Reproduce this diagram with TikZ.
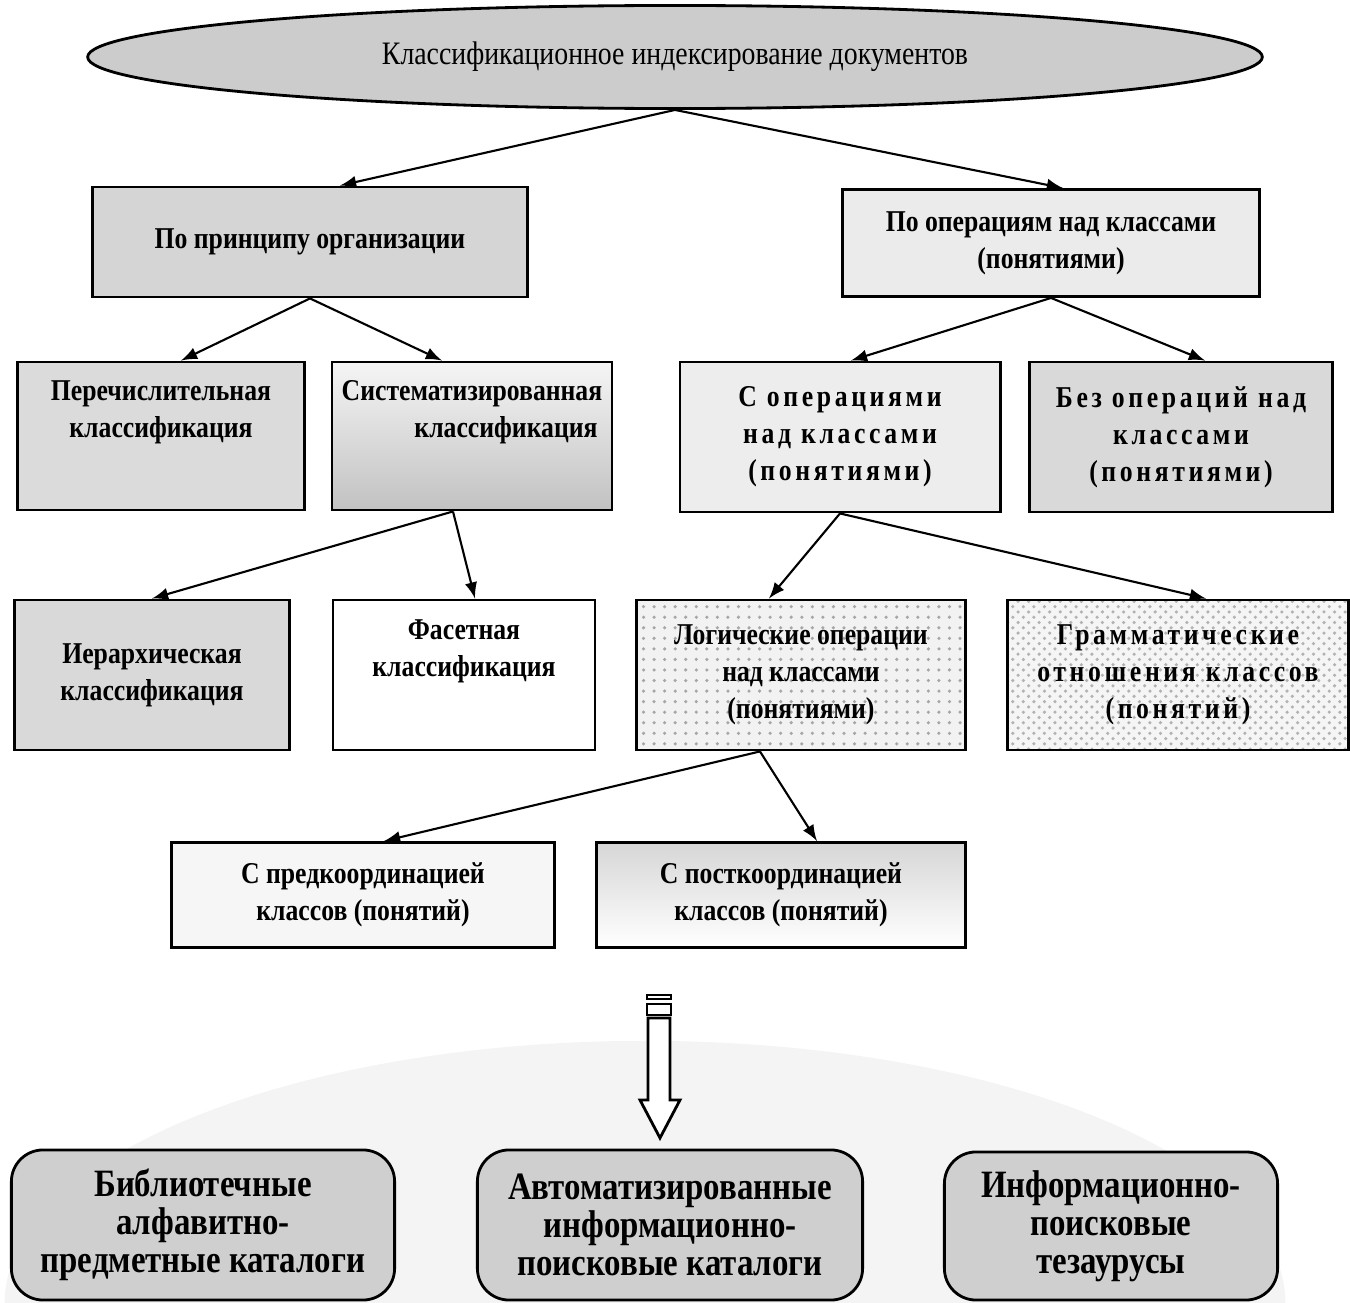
\documentclass[tikz,border=0pt]{standalone}
\usepackage{fontspec}
\setmainfont{Liberation Serif}[FakeStretch=0.85]
\usetikzlibrary{shapes.geometric,patterns}

\tikzset{
  box/.style={draw,thick,rectangle,inner sep=2pt,align=center,font=\bfseries\fontsize{8.6}{10.5}\selectfont},
  wide/.style={font=\bfseries\fontsize{8.6}{10.5}\selectfont\addfontfeature{LetterSpace=12}},
  catbox/.style={draw,thick,rounded corners=9pt,align=center,fill=gray!38,font=\bfseries\fontsize{11}{10.8}\selectfont},
}

\begin{document}
\begin{tikzpicture}[semithick,x=0.01cm,y=-0.01cm,>=latex]
\useasboundingbox (0,0) rectangle (1350,1303);

% faint dome behind the catalogues
\begin{scope}
\clip (0,0) rectangle (1350,1303);
\fill[gray!9] (645,1303) ellipse [x radius=6.4cm, y radius=2.62cm];
\end{scope}

\node (top) [ellipse,draw,thick,fill=gray!40,minimum width=11.74cm,minimum height=1.03cm,
  font=\fontsize{9.3}{11}\selectfont] at (675,57) {Классификационное индексирование документов};

%
% first level
%
\node (A) [box,fill=gray!33,minimum width=4.34cm,minimum height=1.10cm] at (310,242) {По принципу организации};
\node (B) [box,fill=gray!16,minimum width=4.17cm,minimum height=1.07cm] at (1051,243) {По операциям над классами\\(понятиями)};

\draw[->] (top.south) -- ([xshift=0.3cm]A.north);
\draw[->] (top.south) -- ([xshift=0.12cm]B.north);

%
% second level
%
\node (C) [box,fill=gray!28,minimum width=2.87cm,minimum height=1.48cm] at (161,436) {Перечислительная\\классификация\\[5pt]\mbox{}};
\node (D) [box,top color=gray!8,bottom color=gray!48,minimum width=2.80cm,minimum height=1.48cm] at (472,436) {Систематизированная\\\hspace*{0.68cm}классификация\\[5pt]\mbox{}};
\node (E) [box,wide,fill=gray!14,minimum width=3.20cm,minimum height=1.50cm] at (840,437) {С операциями\\над классами\\(понятиями)};
\node (F) [box,wide,fill=gray!30,minimum width=3.03cm,minimum height=1.50cm] at (1181,437) {Без операций над\\классами\\(понятиями)};

\draw[->] (A.south) -- ([xshift=0.2cm]C.north);
\draw[->] (A.south) -- ([xshift=-0.3cm]D.north);
\draw[->] (B.south) -- ([xshift=0.11cm]E.north);
\draw[->] (B.south) -- ([xshift=0.24cm]F.north);

%
% third level
%
\node (G) [box,fill=gray!30,minimum width=2.75cm,minimum height=1.50cm] at (152,675) {Иерархическая\\классификация};
\node (H) [box,fill=white,minimum width=2.62cm,minimum height=1.50cm] at (464,675) {Фасетная\\классификация\\[5pt]\mbox{}};
\node (I) [box,preaction={fill=gray!10},pattern=dots,pattern color=gray!70,minimum width=3.28cm,minimum height=1.50cm] at (801,675) {Логические операции\\над классами\\(понятиями)};
\node (J) [box,wide,preaction={fill=gray!8},pattern=crosshatch dots,pattern color=gray!60,minimum width=3.40cm,minimum height=1.50cm] at (1178,675) {Грамматические\\отношения классов\\(понятий)};

\draw[->] ([xshift=-0.19cm]D.south) -- (G.north);
\draw[->] ([xshift=-0.19cm]D.south) -- ([xshift=0.11cm]H.north);
\draw[->] (E.south) -- ([xshift=-0.32cm]I.north);
\draw[->] (E.south) -- ([xshift=0.28cm]J.north);

%
% fourth level
%
\node (K) [box,fill=gray!7,minimum width=3.83cm,minimum height=1.05cm] at (363,895) {С предкоординацией\\классов (понятий)};
\node (L) [box,top color=gray!32,bottom color=white,minimum width=3.68cm,minimum height=1.05cm] at (781,895) {С посткоординацией\\классов (понятий)};

\draw[->] ([xshift=-0.41cm]I.south) -- ([xshift=0.21cm]K.north);
\draw[->] ([xshift=-0.41cm]I.south) -- ([xshift=0.36cm]L.north);

%
% striped block arrow
%
\draw[thick,fill=white] (647,995) rectangle (671,999);
\draw[thick,fill=white] (647,1004) rectangle (671,1015);
\draw[thick,fill=white] (648,1018) -- (670,1018) -- (670,1100) -- (680,1100) -- (660,1138)
  -- (640,1100) -- (648,1100) -- cycle;

%
% catalogues
%
\node (M) [catbox,minimum width=3.83cm,minimum height=1.50cm] at (203,1225) {Библиотечные\\алфавитно-\\предметные каталоги};
\node (N) [catbox,minimum width=3.85cm,minimum height=1.50cm] at (670,1225) {Автоматизированные\\информационно-\\поисковые каталоги};
\node (O) [catbox,minimum width=3.33cm,minimum height=1.48cm] at (1111,1226) {Информационно-\\поисковые\\тезаурусы};

\end{tikzpicture}
\end{document}
